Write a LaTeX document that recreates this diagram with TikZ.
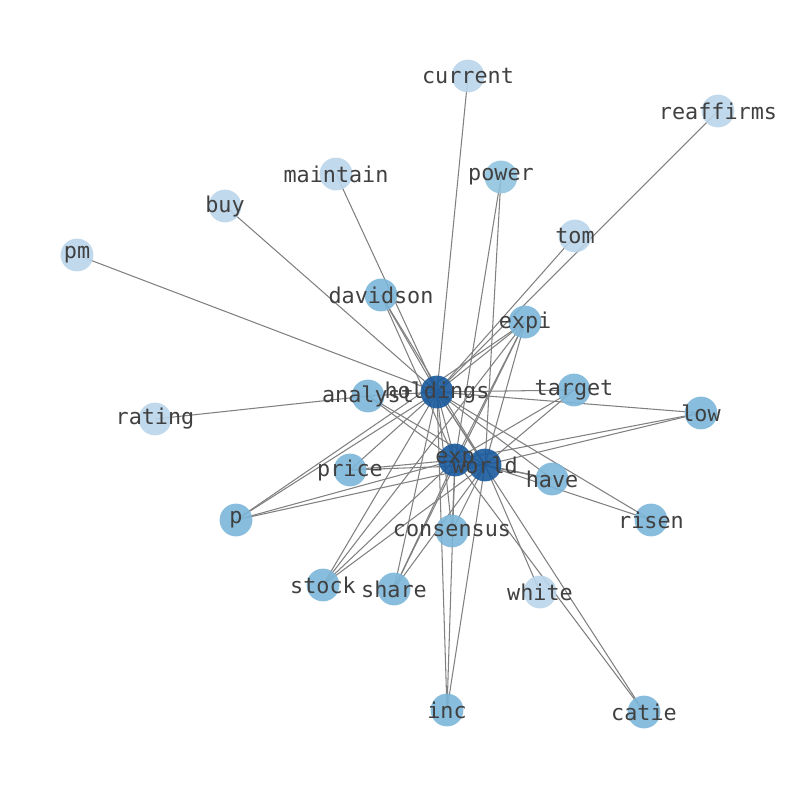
\documentclass[tikz,border=0pt]{standalone}
\usepackage{fontspec}
\setmonofont{DejaVu Sans Mono}
\usetikzlibrary{positioning}
\definecolor{hubblue}{HTML}{18599C}
\definecolor{midblue}{HTML}{7CB6D9}
\definecolor{powblue}{HTML}{91C4DF}
\definecolor{lowblue}{HTML}{BAD5EA}
\definecolor{edgegray}{HTML}{808080}
\definecolor{txtgray}{HTML}{404040}
\tikzset{
  word/.style={circle, minimum size=0.82cm, inner sep=0pt, fill opacity=0.9},
  link/.style={edgegray, line width=0.75pt},
  lbl/.style={inner sep=0pt, text=txtgray, font=\fontsize{15.5}{18}\selectfont\ttfamily}
}
\begin{document}
\begin{tikzpicture}[x=0.025cm, y=-0.025cm]
  \useasboundingbox (0,0) rectangle (794,790);
  %positions
  \foreach \n/\px/\py in {current/468/76, reaffirms/718/111, maintain/336/174,
      power/501/177, buy/225/206, tom/575/236, pm/77/255, davidson/381/295,
      expi/525/322, holdings/437/392, analyst/368/396, target/574/390,
      rating/155/419, low/701/413, exp/455/460, world/485/465, price/350/470,
      have/552/479, p/236/520, risen/651/520, consensus/452/531, stock/323/585,
      share/394/589, white/540/592, inc/447/710, catie/644/712}
    \coordinate (\n) at (\px,\py);
  %edges
  \foreach \b in {current, reaffirms, maintain, buy, pm, tom, davidson, expi,
      analyst, target, low, price, p, risen, have, consensus, stock, share,
      inc, catie, exp, world}
    \draw[link] (holdings) -- (\b);
  \foreach \b in {davidson, power, expi, target, low, price, p, consensus,
      stock, share, catie, world, analyst, have, inc}
    \draw[link] (exp) -- (\b);
  \foreach \b in {davidson, power, expi, target, price, p, have, risen,
      consensus, stock, share, inc, analyst, white, low}
    \draw[link] (world) -- (\b);
  \foreach \a/\b in {rating/analyst, expi/stock, expi/share, expi/p}
    \draw[link] (\a) -- (\b);
  %nodes
  \foreach \n in {holdings, exp, world}
    \node[word, fill=hubblue] (d-\n) at (\n) {};
  \foreach \n in {davidson, expi, analyst, target, low, price, have, p, risen,
      consensus, stock, share, inc, catie}
    \node[word, fill=midblue] (d-\n) at (\n) {};
  \node[word, fill=powblue] (d-power) at (power) {};
  \foreach \n in {current, reaffirms, maintain, buy, tom, pm, rating, white}
    \node[word, fill=lowblue] (d-\n) at (\n) {};
  %labels
  \foreach \n in {current, reaffirms, maintain, power, buy, tom, pm, davidson,
      expi, holdings, analyst, target, rating, low, exp, world, price, have, p,
      risen, consensus, stock, share, white, inc, catie}
    \node[lbl] (t-\n) at (\n) {\n};
\end{tikzpicture}
\end{document}
